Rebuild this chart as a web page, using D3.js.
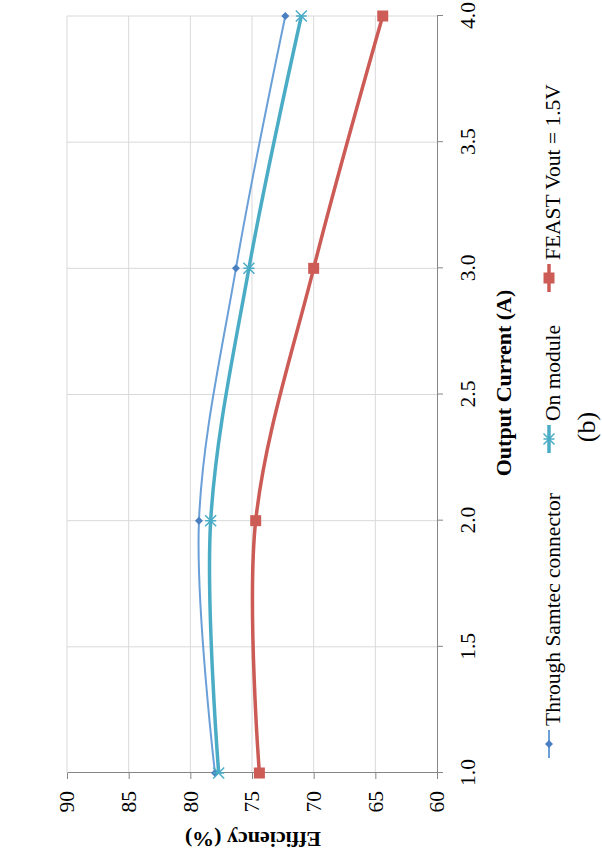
<!DOCTYPE html>
<html>
<head>
<meta charset="utf-8">
<script src="https://cdn.jsdelivr.net/npm/d3@7"></script>
<style>
  html, body { margin: 0; padding: 0; background: #ffffff; }
  svg { display: block; }
  text { font-family: "Liberation Serif", "Times New Roman", serif; fill: #000; }
</style>
</head>
<body>
<svg id="chart" width="602" height="859"></svg>
<script>
// ---- data ----
const currents = [1.0, 2.0, 3.0, 4.0];
const samtec   = [78.0, 79.3, 76.3, 72.3];
const onModule = [77.7, 78.35, 75.25, 71.0];
const feast    = [74.4, 74.7, 70.0, 64.4];
const seriesNames = ["Through Samtec connector", "On module", "FEAST Vout = 1.5V"];
const xTicks = [1.0, 1.5, 2.0, 2.5, 3.0, 3.5, 4.0];
const yTicks = [60, 65, 70, 75, 80, 85, 90];
const xTitle = "Output Current (A)";
const yTitle = "Efficiency (%)";
const caption = "(b)";

// ---- layout (drawn in unrotated frame, then rotated -90deg) ----
const W = 859, H = 602;
const svg = d3.select("#chart");
const g = svg.append("g").attr("transform", `translate(0,${W}) rotate(-90)`);

const x = d3.scaleLinear().domain([1, 4]).range([86, 843]);
const y = d3.scaleLinear().domain([60, 90]).range([437, 67]);

// gridlines
g.append("g").selectAll("line.h").data(yTicks.filter(d => d !== 60)).join("line")
  .attr("x1", x(1)).attr("x2", x(4))
  .attr("y1", d => y(d)).attr("y2", d => y(d))
  .attr("stroke", "#d9d9d9").attr("stroke-width", 1);
g.append("g").selectAll("line.v").data(xTicks.filter(d => d !== 1)).join("line")
  .attr("x1", d => x(d)).attr("x2", d => x(d))
  .attr("y1", y(60)).attr("y2", y(90))
  .attr("stroke", "#d9d9d9").attr("stroke-width", 1);

// axes
const xAxis = g.append("g").attr("transform", `translate(0,${y(60)})`)
  .call(d3.axisBottom(x).tickValues(xTicks).tickFormat(d3.format(".1f")).tickSize(6).tickSizeOuter(0));
xAxis.selectAll("text").attr("y", 38).attr("dy", 0).style("font-size", "21.5px")
  .style("font-family", "Liberation Serif");
const yAxis = g.append("g").attr("transform", `translate(${x(1)},0)`)
  .call(d3.axisLeft(y).tickValues(yTicks).tickSize(6).tickSizeOuter(0).tickPadding(12));
yAxis.selectAll("text").style("font-size", "21.5px").style("font-family", "Liberation Serif");
[xAxis, yAxis].forEach(a => {
  a.select(".domain").attr("stroke", "#868686");
  a.selectAll(".tick line").attr("stroke", "#868686");
});

// markers
function markerPath(type, s) {
  const h = s / 2;
  if (type === "diamond") return `M0,${-h}L${h},0L0,${h}L${-h},0Z`;
  if (type === "square") return `M${-h},${-h}H${h}V${h}H${-h}Z`;
  // star: X plus vertical bar
  return `M${-h},${-h}L${h},${h}M${-h},${h}L${h},${-h}M0,${-h}V${h}`;
}

const series = [
  { name: seriesNames[0], values: samtec,   line: "#6a9fd8", marker: "#4a7fc1", width: 2,   type: "diamond", size: 8 },
  { name: seriesNames[1], values: onModule, line: "#4bacc6", marker: "#4bacc6", width: 3.5, type: "star",    size: 11 },
  { name: seriesNames[2], values: feast,    line: "#cc5b56", marker: "#cd5c57", width: 3.5, type: "square",  size: 11 }
];

const lineGen = d3.line().x(d => x(d[0])).y(d => y(d[1])).curve(d3.curveCatmullRom.alpha(0));

series.forEach(s => {
  const pts = currents.map((c, i) => [c, s.values[i]]);
  g.append("path").datum(pts).attr("d", lineGen)
    .attr("fill", "none").attr("stroke", s.line).attr("stroke-width", s.width)
    .attr("stroke-linejoin", "round");
  g.append("g").selectAll("path").data(pts).join("path")
    .attr("transform", d => `translate(${x(d[0])},${y(d[1])})`)
    .attr("d", markerPath(s.type, s.size))
    .attr("fill", s.type === "star" ? "none" : s.marker)
    .attr("stroke", s.marker).attr("stroke-width", s.type === "star" ? 1.5 : 0);
});

// axis titles
g.append("text").attr("x", 476).attr("y", 511).attr("text-anchor", "middle")
  .style("font-size", "22px").style("font-weight", "bold").text(xTitle);
g.append("text").attr("transform", `translate(27,253) rotate(-90)`).attr("text-anchor", "middle")
  .style("font-size", "22px").style("font-weight", "bold").text(yTitle);

// legend
const legendPos = [101, 406, 567];
const leg = g.append("g");
series.forEach((s, i) => {
  const u0 = legendPos[i];
  leg.append("line").attr("x1", u0).attr("x2", u0 + 28).attr("y1", 549).attr("y2", 549)
    .attr("stroke", s.line).attr("stroke-width", s.width);
  leg.append("path").attr("transform", `translate(${u0 + 14},549)`)
    .attr("d", markerPath(s.type, s.size))
    .attr("fill", s.type === "star" ? "none" : s.marker)
    .attr("stroke", s.marker).attr("stroke-width", s.type === "star" ? 1.5 : 0);
  leg.append("text").attr("x", u0 + 32).attr("y", 560).style("font-size", "21.5px").text(s.name);
});

// caption
g.append("text").attr("x", 432).attr("y", 595).attr("text-anchor", "middle")
  .style("font-size", "26px").text(caption);
</script>
</body>
</html>
